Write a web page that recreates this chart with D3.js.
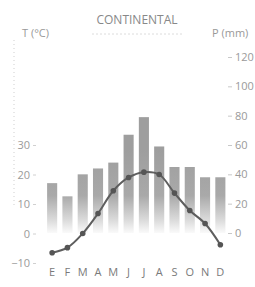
<!DOCTYPE html>
<html>
<head>
<meta charset="utf-8">
<script src="https://cdn.jsdelivr.net/npm/d3@7"></script>
<style>
  body { margin: 0; background: #fff; }
  svg { display: block; font-family: "Open Sans", "Noto Sans", sans-serif; }
</style>
</head>
<body>
<svg id="chart" width="255" height="287"></svg>
<script>
// climograph data
const months = ["E", "F", "M", "A", "M", "J", "J", "A", "S", "O", "N", "D"];
const precip = [34, 25, 40, 44, 48, 67, 79, 59, 45, 45, 38, 38];       // mm
const temp = [-6.5, -4.8, 0, 6.8, 14.5, 19, 20.8, 20, 13.7, 7.8, 3.4, -3.8]; // °C
const tTicks = [-10, 0, 10, 20, 30];
const pTicks = [0, 20, 40, 60, 80, 100, 120];

const svg = d3.select("#chart");

// month band scale
const x = d3.scaleBand()
    .domain(d3.range(12))
    .range([44.5, 228])
    .paddingInner(0.34)
    .paddingOuter(0.17);

// 2 mm of rain == 1 °C
const yT = d3.scaleLinear().domain([-10, 30]).range([263, 145]);
const yP = d3.scaleLinear().domain([0, 120]).range([233, 57]);

// fading bars
const grad = svg.append("defs").append("linearGradient")
    .attr("id", "barFade")
    .attr("gradientUnits", "userSpaceOnUse")
    .attr("x1", 0).attr("x2", 0)
    .attr("y1", 150).attr("y2", 233);
grad.append("stop").attr("offset", 0).attr("stop-color", "#9e9e9e");
grad.append("stop").attr("offset", 0.55).attr("stop-color", "#a9a9a9");
grad.append("stop").attr("offset", 0.85).attr("stop-color", "#dcdcdc");
grad.append("stop").attr("offset", 1).attr("stop-color", "#fafafa");

svg.append("g")
    .selectAll("rect")
    .data(precip)
    .join("rect")
    .attr("x", (d, i) => x(i))
    .attr("width", x.bandwidth())
    .attr("y", d => yP(d))
    .attr("height", d => yP(0) - yP(d))
    .attr("fill", "url(#barFade)");

// faint dotted guide on the far left
svg.append("line")
    .attr("x1", 14).attr("x2", 14)
    .attr("y1", 40).attr("y2", 205)
    .attr("stroke", "#cfcfcf")
    .attr("stroke-dasharray", "1,3");

// left axis (temperature)
const leftAxis = svg.append("g")
    .attr("transform", "translate(36,0)")
    .call(d3.axisLeft(yT).tickValues(tTicks).tickSize(3).tickPadding(3));
leftAxis.select(".domain").remove();
leftAxis.selectAll("line").attr("stroke", "#d0d0d0");
leftAxis.selectAll("text")
    .attr("fill", "#9a9a9a")
    .style("font-size", "11px")
    .style("font-family", "'Open Sans', sans-serif");

// right axis (precipitation)
const rightAxis = svg.append("g")
    .attr("transform", "translate(228,0)")
    .call(d3.axisRight(yP).tickValues(pTicks).tickSize(4).tickPadding(3));
rightAxis.select(".domain").remove();
rightAxis.selectAll("line").attr("stroke", "#c8c8c8");
rightAxis.selectAll("text")
    .attr("fill", "#9a9a9a")
    .style("font-size", "11px")
    .style("font-family", "'Open Sans', sans-serif");

// month labels
svg.append("g")
    .selectAll("text")
    .data(months)
    .join("text")
    .attr("x", (d, i) => x(i) + x.bandwidth() / 2)
    .attr("y", 276)
    .attr("text-anchor", "middle")
    .attr("fill", "#7a7a7a")
    .style("font-size", "11px")
    .text(d => d);

// temperature curve
const line = d3.line()
    .x((d, i) => x(i) + x.bandwidth() / 2)
    .y(d => yT(d))
    .curve(d3.curveCatmullRom);

svg.append("path")
    .datum(temp)
    .attr("d", line)
    .attr("fill", "none")
    .attr("stroke", "#5e5e5e")
    .attr("stroke-width", 2);

svg.append("g")
    .selectAll("circle")
    .data(temp)
    .join("circle")
    .attr("cx", (d, i) => x(i) + x.bandwidth() / 2)
    .attr("cy", d => yT(d))
    .attr("r", 2.8)
    .attr("fill", "#555");

// titles
svg.append("text")
    .attr("x", 137).attr("y", 24)
    .attr("text-anchor", "middle")
    .attr("fill", "#888")
    .style("font-size", "12px")
    .text("CONTINENTAL");

svg.append("line")
    .attr("x1", 92).attr("x2", 184)
    .attr("y1", 34).attr("y2", 34)
    .attr("stroke", "#dcdcdc")
    .attr("stroke-dasharray", "2,2");

svg.append("text")
    .attr("x", 22).attr("y", 37)
    .attr("fill", "#999")
    .style("font-size", "11px")
    .text("T (°C)");

svg.append("text")
    .attr("x", 212).attr("y", 37)
    .attr("fill", "#999")
    .style("font-size", "11px")
    .text("P (mm)");
</script>
</body>
</html>
